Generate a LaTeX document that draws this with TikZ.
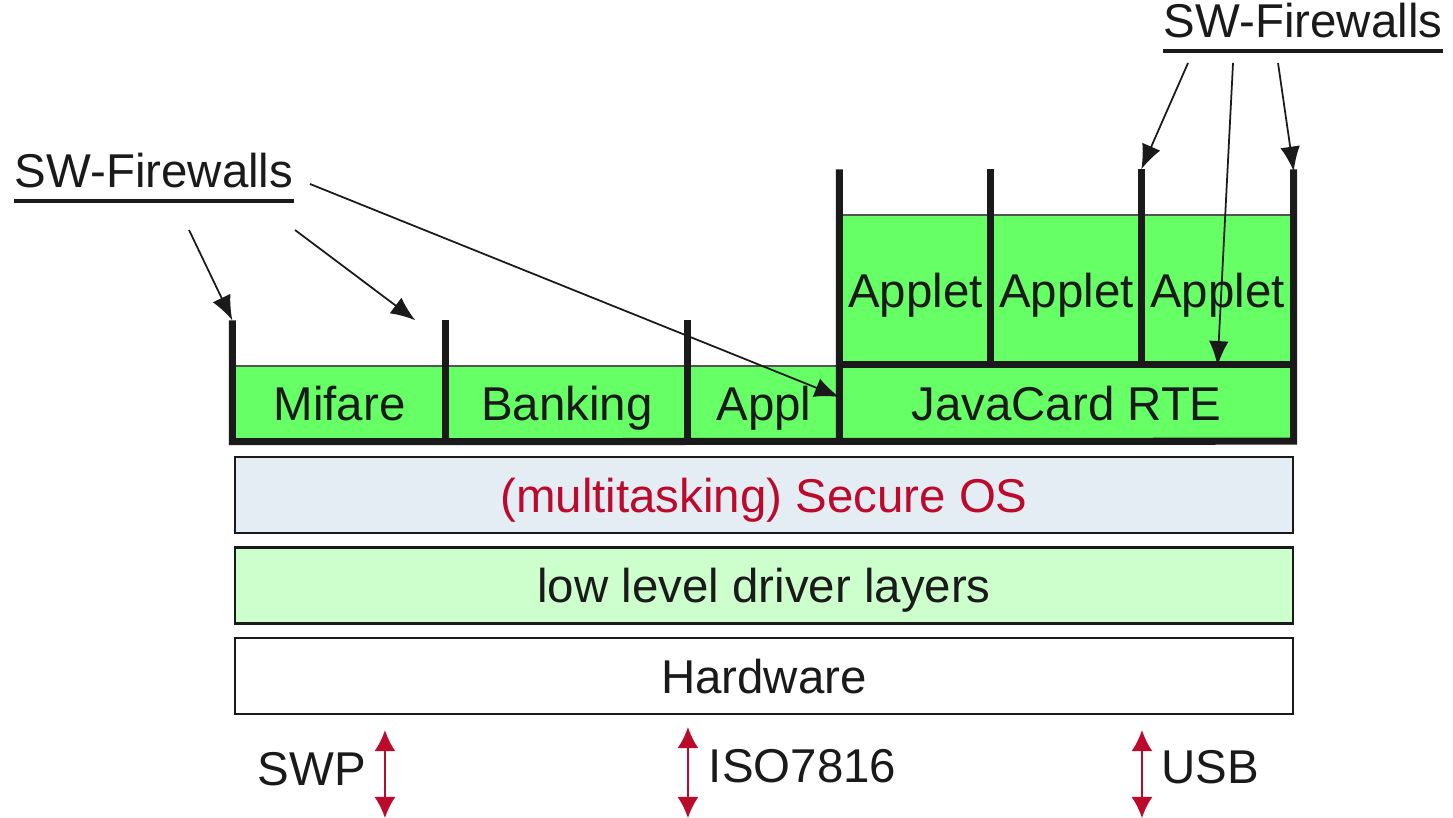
\documentclass[tikz,border=0pt]{standalone}
\usepackage{fontspec}
\setmainfont{Liberation Sans}
\usetikzlibrary{arrows.meta}
\definecolor{cardgreen}{RGB}{102,255,102}
\definecolor{drvgreen}{RGB}{204,255,204}
\definecolor{osblue}{RGB}{228,236,244}
\definecolor{ifred}{RGB}{188,10,45}
\definecolor{ink}{RGB}{26,26,26}
\tikzset{
  lbl/.style={font=\fontsize{13.5}{16}\selectfont, text=ink, text height=9.7pt, text depth=0pt, inner sep=0pt},
  appbox/.style={lbl, fill=cardgreen, draw=ink!75, line width=0.4pt, minimum height=#1},
  appbox/.default=0.75cm,
  layer/.style={lbl, draw=ink, line width=0.6pt, minimum width=10.58cm, minimum height=0.76cm},
  wall/.style={draw=ink, line width=2pt},
  fwarrow/.style={draw=ink, line width=0.5pt, -{Latex[length=7pt,width=5.6pt]}},
  busarrow/.style={draw=ifred, line width=0.6pt, {Latex[length=6pt,width=6pt]}-{Latex[length=6pt,width=6pt]}},
}
\begin{document}
\begin{tikzpicture}
\useasboundingbox (0,0) rectangle (14.53,-8.18);

\node[appbox, minimum width=2.13cm] (mifare) at (3.395,-4.035) {Mifare};
\node[appbox, minimum width=2.42cm] (banking) at (5.67,-4.035) {Banking};
\node[appbox, minimum width=1.52cm] (appl) at (7.64,-4.035) {Appl};
\node[appbox, minimum width=4.53cm] (rte) at (10.665,-4.03) {JavaCard RTE};
\node[appbox=1.5cm, minimum width=1.51cm] (applet1) at (9.155,-2.90) {Applet};
\node[appbox=1.5cm, minimum width=1.51cm] (applet2) at (10.665,-2.90) {Applet};
\node[appbox=1.5cm, minimum width=1.51cm] (applet3) at (12.175,-2.90) {Applet};

\draw[wall] ([yshift=4.5mm]mifare.north west) -- (mifare.south west) -- (rte.south east) -- ([yshift=4.5mm]applet3.north east);
\draw[wall] ([yshift=4.5mm]banking.north west) -- (banking.south west);
\draw[wall] ([yshift=4.5mm]appl.north west) -- (appl.south west);
\draw[wall] ([yshift=4.5mm]applet1.north west) -- (rte.south west);
\draw[wall] ([yshift=4.5mm]applet2.north west) -- (applet2.south west);
\draw[wall] ([yshift=4.5mm]applet3.north west) -- (applet3.south west);
\draw[wall] (rte.north west) -- (rte.north east);

\node[layer, fill=osblue, text=ifred] (os) at (7.64,-4.95) {(multitasking) Secure OS};
\node[layer, fill=drvgreen] (drv) at (7.64,-5.855) {low level driver layers};
\node[layer, fill=white] (hw) at (7.64,-6.76) {Hardware};

\node[lbl, anchor=base] (fwl) at (1.54,-1.88) {SW-Firewalls};
\node[lbl, anchor=base] (fwr) at (13.03,-0.38) {SW-Firewalls};
\draw[ink, line width=0.9pt] ([yshift=-3.7pt]fwl.base west) -- ([yshift=-3.7pt]fwl.base east);
\draw[ink, line width=0.9pt] ([yshift=-3.7pt]fwr.base west) -- ([yshift=-3.7pt]fwr.base east);

\coordinate (fwl-a) at ([shift={(0.35,-0.42)}]fwl.base);
\coordinate (fwl-b) at ([shift={(1.41,-0.42)}]fwl.base);
\coordinate (fwl-c) at ([shift={(1.56,0.04)}]fwl.base);
\coordinate (fwr-a) at ([shift={(-1.15,-0.25)}]fwr.base);
\coordinate (fwr-b) at ([shift={(-0.70,-0.25)}]fwr.base);
\coordinate (fwr-c) at ([shift={(-0.25,-0.25)}]fwr.base);
\draw[fwarrow] (fwl-a) -- ([yshift=4.5mm]mifare.north west);
\draw[fwarrow] (fwl-b) -- ([xshift=-3mm,yshift=4.5mm]banking.north west);
\draw[fwarrow] (fwl-c) -- ([yshift=0.6mm]rte.west);
\draw[fwarrow] (fwr-a) -- ([yshift=4.5mm]applet3.north west);
\draw[fwarrow] (fwr-b) -- (applet3.south);
\draw[fwarrow] (fwr-c) -- ([yshift=4.3mm]applet3.north east);

\node[lbl, anchor=base] (swp) at (3.12,-7.85) {SWP};
\node[lbl, anchor=base] (iso) at (8.025,-7.82) {ISO7816};
\node[lbl, anchor=base] (usb) at (12.10,-7.83) {USB};
\coordinate (swp-top) at ([shift={(1.51,-0.15)}]hw.south west);
\coordinate (swp-bot) at ([shift={(1.51,-1.03)}]hw.south west);
\coordinate (iso-top) at ([shift={(4.54,-0.12)}]hw.south west);
\coordinate (iso-bot) at ([shift={(4.54,-1.03)}]hw.south west);
\coordinate (usb-top) at ([shift={(9.08,-0.15)}]hw.south west);
\coordinate (usb-bot) at ([shift={(9.08,-1.03)}]hw.south west);
\draw[busarrow] (swp-top) -- (swp-bot);
\draw[busarrow] (iso-top) -- (iso-bot);
\draw[busarrow] (usb-top) -- (usb-bot);
\end{tikzpicture}
\end{document}
